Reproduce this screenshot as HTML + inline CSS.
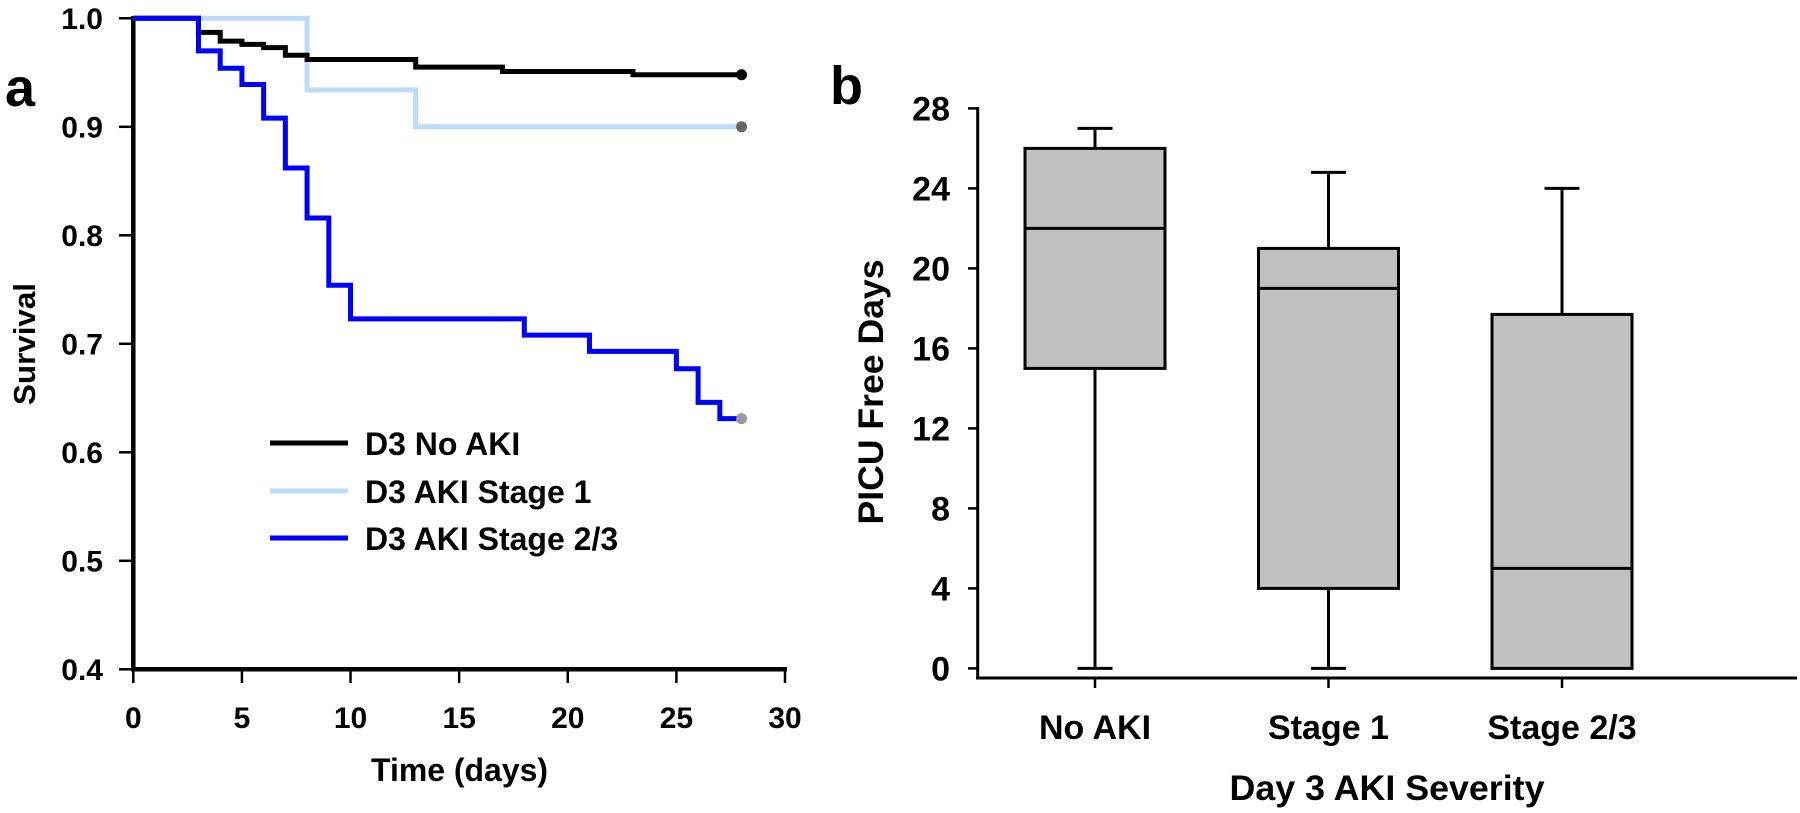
<!DOCTYPE html>
<html><head><meta charset="utf-8"><style>
html,body{margin:0;padding:0;background:#fff;}
svg{display:block;font-family:"Liberation Sans",Arial,sans-serif;font-weight:bold;}
</style></head><body>
<svg id="fig" width="1800" height="813" viewBox="0 0 1800 813" xmlns="http://www.w3.org/2000/svg"></svg>
<script>
// ---- Panel a: Kaplan-Meier data ----
const kmNames = ["D3 No AKI","D3 AKI Stage 1","D3 AKI Stage 2/3"];
const kmColors = ["#000000","#bcdcfa","#0000ff"];
const noAkiTimes = [0,3,4,5,6,7,8,13,17,23,28];
const noAkiSurv  = [1.0,0.987,0.979,0.976,0.973,0.966,0.962,0.955,0.951,0.948,0.948];
const st1Times = [0,8,13,28];
const st1Surv  = [1.0,0.934,0.900,0.900];
const st23Times = [0,3,4,5,6,7,8,9,10,18,21,25,26,27,28];
const st23Surv  = [1.0,0.970,0.954,0.939,0.908,0.862,0.816,0.754,0.723,0.708,0.693,0.677,0.646,0.631,0.631];
const kmXTicks = [0,5,10,15,20,25,30];
const kmYTicks = [0.4,0.5,0.6,0.7,0.8,0.9,1.0];
// ---- Panel b: box plot data ----
const boxCats = ["No AKI","Stage 1","Stage 2/3"];
const boxMin = [0,0,0];
const boxQ1  = [15,4,0];
const boxMed = [22,19,5];
const boxQ3  = [26,21,17.7];
const boxMax = [27,24.8,24];
const boxYTicks = [0,4,8,12,16,20,24,28];

const NS="http://www.w3.org/2000/svg";
const svg=document.getElementById('fig');
function mk(tag,attrs,parent){const e=document.createElementNS(NS,tag);for(const k in attrs)e.setAttribute(k,attrs[k]);(parent||svg).appendChild(e);return e;}

// scales
const xL=d=>133.3+d*(785-133.3)/30;
const yL=v=>669.3-(v-0.4)*1085;
const yR=v=>668.4-v*20;
const xR=i=>1095+i*233.5;

// Panel labels
let t=mk('text',{x:5,y:106,'font-size':54});t.textContent='a';


t=mk('text',{x:830,y:104,'font-size':54});t.textContent='b';



// ---- Panel a axes ----
let ax=mk('g',{});


mk('line',{x1:133.3,y1:16,x2:133.3,y2:671.5,stroke:'#000','stroke-width':4.5},ax);
mk('line',{x1:131,y1:669.3,x2:787,y2:669.3,stroke:'#000','stroke-width':4.5},ax);
kmYTicks.forEach(v=>{
  mk('line',{x1:119,y1:yL(v),x2:133,y2:yL(v),stroke:'#000','stroke-width':2.5},ax);
  const e=mk('text',{x:103,y:yL(v)+10.5,'font-size':30,'text-anchor':'end'},ax);e.textContent=v.toFixed(1);
  
  
});
kmXTicks.forEach(d=>{
  mk('line',{x1:xL(d),y1:669,x2:xL(d),y2:683,stroke:'#000','stroke-width':2.5},ax);
  const e=mk('text',{x:xL(d),y:728,'font-size':30,'text-anchor':'middle'},ax);e.textContent=d;
  
  
});
t=mk('text',{x:459.5,y:781,'font-size':32,'text-anchor':'middle',textLength:177,lengthAdjust:'spacingAndGlyphs'});t.textContent='Time (days)';


t=mk('text',{x:0,y:0,'font-size':31,'text-anchor':'middle',transform:'translate(35,344) rotate(-90)',textLength:122,lengthAdjust:'spacingAndGlyphs'});t.textContent='Survival';



// ---- KM curves ----
function stepPath(ts,ss){let p=`M${xL(ts[0])},${yL(ss[0])}`;for(let i=1;i<ts.length;i++){p+=` H${xL(ts[i])} V${yL(ss[i])}`;}return p;}
const series=[[noAkiTimes,noAkiSurv],[st1Times,st1Surv],[st23Times,st23Surv]];
const seriesNames=['km-curve-no-aki','km-curve-stage-1','km-curve-stage-2-3'];
const dotColors=['#000','#666','#999'];
[1,0,2].forEach(i=>{
  const [ts,ss]=series[i];
  const p=mk('path',{d:stepPath(ts,ss),fill:'none',stroke:kmColors[i],'stroke-width':5});
  
  
});
[0,1,2].forEach(i=>{
  const [ts,ss]=series[i];
  const c=mk('circle',{cx:xL(ts[ts.length-1]),cy:yL(ss[ss.length-1]),r:5.5,fill:dotColors[i]});
  
  
});
// legend
const legY=[443,491,538];
kmNames.forEach((n,i)=>{
  const g=mk('g',{});
  
  
  mk('line',{x1:270,y1:legY[i],x2:348,y2:legY[i],stroke:kmColors[i],'stroke-width':5},g);
  const e=mk('text',{x:365,y:legY[i]+12,'font-size':32},g);e.textContent=n;
});

// ---- Panel b axes ----
ax=mk('g',{});


mk('line',{x1:977.7,y1:107,x2:977.7,y2:679.5,stroke:'#000','stroke-width':3},ax);
mk('line',{x1:976,y1:678,x2:1797,y2:678,stroke:'#000','stroke-width':3},ax);
boxYTicks.forEach(v=>{
  mk('line',{x1:968,y1:yR(v),x2:978,y2:yR(v),stroke:'#000','stroke-width':2.5},ax);
  const e=mk('text',{x:950,y:yR(v)+12,'font-size':34,'text-anchor':'end'},ax);e.textContent=v;
  
  
});
boxCats.forEach((c,i)=>{
  mk('line',{x1:xR(i),y1:678,x2:xR(i),y2:688,stroke:'#000','stroke-width':2.5},ax);
  const e=mk('text',{x:xR(i),y:739,'font-size':34,'text-anchor':'middle'},ax);e.textContent=c;
  
  
});
t=mk('text',{x:1387,y:800,'font-size':35,'text-anchor':'middle',textLength:315,lengthAdjust:'spacingAndGlyphs'});t.textContent='Day 3 AKI Severity';


t=mk('text',{x:0,y:0,'font-size':35,'text-anchor':'middle',transform:'translate(883,392) rotate(-90)',textLength:265,lengthAdjust:'spacingAndGlyphs'});t.textContent='PICU Free Days';



// ---- boxes ----
const bw=140, cap=35;
boxCats.forEach((c,i)=>{
  const cx=xR(i);
  const g=mk('g',{});
  
  
  mk('line',{x1:cx,y1:yR(boxMax[i]),x2:cx,y2:yR(boxQ3[i]),stroke:'#000','stroke-width':3},g);
  mk('line',{x1:cx,y1:yR(boxMin[i]),x2:cx,y2:yR(boxQ1[i]),stroke:'#000','stroke-width':3},g);
  mk('line',{x1:cx-cap/2,y1:yR(boxMax[i]),x2:cx+cap/2,y2:yR(boxMax[i]),stroke:'#000','stroke-width':3},g);
  if(boxMin[i]<boxQ1[i]) mk('line',{x1:cx-cap/2,y1:yR(boxMin[i]),x2:cx+cap/2,y2:yR(boxMin[i]),stroke:'#000','stroke-width':3},g);
  mk('rect',{x:cx-bw/2,y:yR(boxQ3[i]),width:bw,height:yR(boxQ1[i])-yR(boxQ3[i]),fill:'#c0c0c0',stroke:'#000','stroke-width':3},g);
  mk('line',{x1:cx-bw/2,y1:yR(boxMed[i]),x2:cx+bw/2,y2:yR(boxMed[i]),stroke:'#000','stroke-width':3},g);
});
</script>
</body></html>
